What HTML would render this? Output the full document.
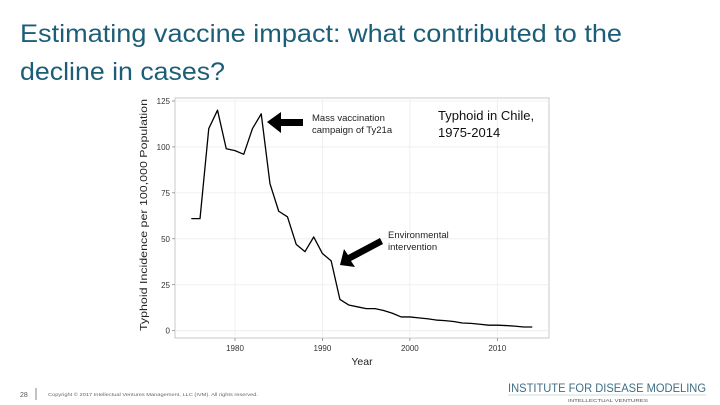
<!DOCTYPE html>
<html><head><meta charset="utf-8"><style>
html,body{margin:0;padding:0;background:#fff;width:720px;height:405px;overflow:hidden;font-family:"Liberation Sans",sans-serif}
</style></head><body>
<svg id="svg" width="720" height="405" xmlns="http://www.w3.org/2000/svg">
<text x="20" y="42" font-size="25" fill="#1c5e78" textLength="602" lengthAdjust="spacingAndGlyphs">Estimating vaccine impact: what contributed to the</text>
<text x="20" y="80" font-size="25" fill="#1c5e78" textLength="205" lengthAdjust="spacingAndGlyphs">decline in cases?</text>
<g id="chart"></g>
<text x="20" y="397" font-size="7" fill="#555">28</text>
<line x1="36" y1="388" x2="36" y2="400" stroke="#666" stroke-width="0.8"/>
<text x="48" y="396" font-size="4.5" fill="#666" textLength="210" lengthAdjust="spacingAndGlyphs">Copyright © 2017 Intellectual Ventures Management, LLC (IVM). All rights reserved.</text>
<text x="508" y="392" font-size="12" fill="#3f6f86" textLength="198" lengthAdjust="spacingAndGlyphs">INSTITUTE FOR DISEASE MODELING</text>
<line x1="508" y1="395" x2="706" y2="395" stroke="#9bb" stroke-width="0.6"/>
<text x="568" y="402" font-size="4.5" fill="#555" textLength="80" lengthAdjust="spacingAndGlyphs">INTELLECTUAL VENTURES</text>
</svg>
<script>
const years=[1975,1976,1977,1978,1979,1980,1981,1982,1983,1984,1985,1986,1987,1988,1989,1990,1991,1992,1993,1994,1995,1996,1997,1998,1999,2000,2001,2002,2003,2004,2005,2006,2007,2008,2009,2010,2011,2012,2013,2014];
const incidence=[61,61,110,120,99,98,96,110,118,80,65,62,47,43,51,42,38,17,14,13,12,12,11,9.5,7.5,7.5,7,6.5,5.8,5.5,5,4.2,4,3.5,3,3,2.8,2.5,2,2];
const yTicks=[0,25,50,75,100,125];
const xTicks=[1980,1990,2000,2010];
const NS="http://www.w3.org/2000/svg";
const g=document.getElementById('chart');
const L=175,R=549,T=98,B=338;
const xs=v=>235+(v-1980)*(497.3-235)/30;
const ys=v=>330.7-v*(330.7-101)/125;
function mk(tag,attrs,parent){const e=document.createElementNS(NS,tag);for(const k in attrs)e.setAttribute(k,attrs[k]);(parent||g).appendChild(e);return e;}
const bg=mk('rect',{x:L,y:T,width:R-L,height:B-T,fill:'#fff',stroke:'#bbb','stroke-width':0.8});


yTicks.forEach(v=>{
  const l=mk('line',{x1:L,x2:R,y1:ys(v),y2:ys(v),stroke:'#ececec','stroke-width':0.8});
  
  
  const t=mk('text',{x:L-5,y:ys(v)+3,'font-size':8,'text-anchor':'end',fill:'#333'});
  t.textContent=v;
  
  
  mk('line',{x1:L-3,x2:L,y1:ys(v),y2:ys(v),stroke:'#666','stroke-width':0.6});
});
xTicks.forEach(v=>{
  const l=mk('line',{x1:xs(v),x2:xs(v),y1:T,y2:B,stroke:'#ececec','stroke-width':0.8});
  
  
  const t=mk('text',{x:xs(v),y:B+13,'font-size':8,'text-anchor':'middle',fill:'#333'});
  t.textContent=v;
  
  
  mk('line',{x1:xs(v),x2:xs(v),y1:B,y2:B+3,stroke:'#666','stroke-width':0.6});
});
const line=mk('polyline',{points:years.map((y,i)=>xs(y)+','+ys(incidence[i])).join(' '),fill:'none',stroke:'#000','stroke-width':1.3,'stroke-linejoin':'round'});


const xt=mk('text',{x:362,y:365,'font-size':10.5,'text-anchor':'middle',fill:'#222'});
xt.textContent='Year';


const yt=mk('text',{x:0,y:0,'font-size':10,'text-anchor':'middle',fill:'#222',transform:'translate(147,215) rotate(-90)',textLength:232,lengthAdjust:'spacingAndGlyphs'});
yt.textContent='Typhoid Incidence per 100,000 Population';


const a1=mk('polygon',{points:'267,122 281,112 281,119 303,119 303,126 281,126 281,133',fill:'#000'});


const a2=mk('polygon',{points:'340,265 344,249 348,255 380,238 383,244 351,261 355,267',fill:'#000'});


[['Mass vaccination',312,121,'annotation-vaccination'],['campaign of Ty21a',312,133,'annotation-vaccination-2'],['Environmental',388,238,'annotation-environment'],['intervention',388,250,'annotation-environment-2']].forEach(a=>{
  const t=mk('text',{x:a[1],y:a[2],'font-size':9.5,fill:'#222'});
  t.textContent=a[0];
  
  
});
[['Typhoid in Chile,',120],['1975-2014',137]].forEach((a,i)=>{
  const t=mk('text',{x:438,y:a[1],'font-size':13,fill:'#111'});
  t.textContent=a[0];
  
  
});
</script>
</body></html>
